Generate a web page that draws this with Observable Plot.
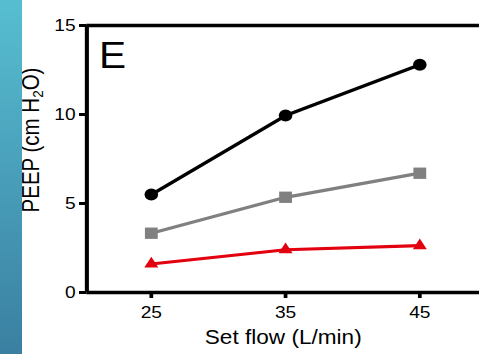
<!DOCTYPE html>
<html><head><meta charset="utf-8">
<script src="https://cdn.jsdelivr.net/npm/d3@7"></script>
<script src="https://cdn.jsdelivr.net/npm/@observablehq/plot@0.6"></script>
<style>
html,body{margin:0;padding:0;background:#fff;overflow:hidden;width:479px;height:354px;}
#strip{position:absolute;left:0;top:0;width:22px;height:354px;background:linear-gradient(#57bed1,#3a7fa1);z-index:2}
#chart{position:absolute;left:0;top:0;transform:scaleX(1.1297);transform-origin:0 0;}
#chart svg{display:block;overflow:visible}
</style></head><body>
<div id="strip"></div><div id="chart"></div>
<script>
// ---- data ----
const flows = [25, 35, 45];
const blackSeries = [5.5, 9.94, 12.8];
const graySeries = [3.33, 5.35, 6.7];
const redSeries = [1.6, 2.4, 2.63];
const xTicks = [25, 35, 45];
const yTicks = [0, 5, 10, 15];
const xDomain = [20.2, 49.45];
const yDomain = [0, 15];
const panelLabel = "E";
const xLabel = "Set flow (L/min)";
const yLabelParts = ["PEEP (cm H", "2", "O)"];

const toRows = (vals) => flows.map((f, i) => ({flow: f, peep: vals[i]}));
const rowsBlack = toRows(blackSeries);
const rowsGray = toRows(graySeries);
const rowsRed = toRows(redSeries);

const S = 1.1297;               // horizontal stretch of the original figure
const W = 479 / S;
const font = "'Liberation Sans', Arial, Helvetica, sans-serif";
const RED = "#e3000f";

const plot = Plot.plot({
  width: W, height: 354,
  marginLeft: 76.4, marginRight: 0, marginTop: 25, marginBottom: 62,
  style: {fontFamily: font, fontSize: "17px", color: "#000", background: "transparent"},
  x: {domain: xDomain, axis: null},
  y: {domain: yDomain, axis: null},
  marks: [
    Plot.axisY({ticks: yTicks, tickSize: 6.5, tickPadding: 3.5, strokeWidth: 3, fontSize: 17, label: null}),
    Plot.axisX({ticks: xTicks, tickSize: 6, tickPadding: 7, strokeWidth: 3.3, fontSize: 17, label: null}),
    Plot.ruleY(yDomain, {stroke: "#000", strokeWidth: 3.3}),
    Plot.ruleX([xDomain[0]], {stroke: "#000", strokeWidth: 3.6}),
    Plot.line(rowsGray, {x: "flow", y: "peep", stroke: "#808080", strokeWidth: 3.3}),
    Plot.line(rowsRed, {x: "flow", y: "peep", stroke: RED, strokeWidth: 3.2}),
    Plot.line(rowsBlack, {x: "flow", y: "peep", stroke: "#000", strokeWidth: 3.3}),
    Plot.dot(rowsBlack, {x: "flow", y: "peep", symbol: "circle", r: 6, fill: "#000"}),
    Plot.dot(rowsGray, {x: "flow", y: "peep", symbol: "square", r: 6.4, fill: "#808080"}),
    Plot.dot(rowsRed, {x: "flow", y: "peep", symbol: "triangle", r: 4.6, fill: RED}),
    Plot.text([panelLabel], {text: d => d, frameAnchor: "top-left", textAnchor: "start", lineAnchor: "top", dx: 10.8, dy: 16.7, fontSize: 36, fill: "#000"}),
    Plot.text([xLabel], {text: d => d, frameAnchor: "bottom", textAnchor: "middle", lineAnchor: "bottom", dy: 52, fontSize: 20, fill: "#000"})
  ]
});

// y-axis title with a real subscript
const svg = d3.select(plot);
const t = svg.append("text")
  .attr("transform", `translate(${38.6 / S},140) rotate(-90)`)
  .attr("text-anchor", "middle")
  .attr("font-family", font)
  .attr("font-size", 20.5)
  .attr("fill", "#000");
t.append("tspan").text(yLabelParts[0]);
t.append("tspan").attr("font-size", 13.5).attr("dy", 4).text(yLabelParts[1]);
t.append("tspan").attr("dy", -4).text(yLabelParts[2]);

document.getElementById("chart").appendChild(plot);
</script>
</body></html>
